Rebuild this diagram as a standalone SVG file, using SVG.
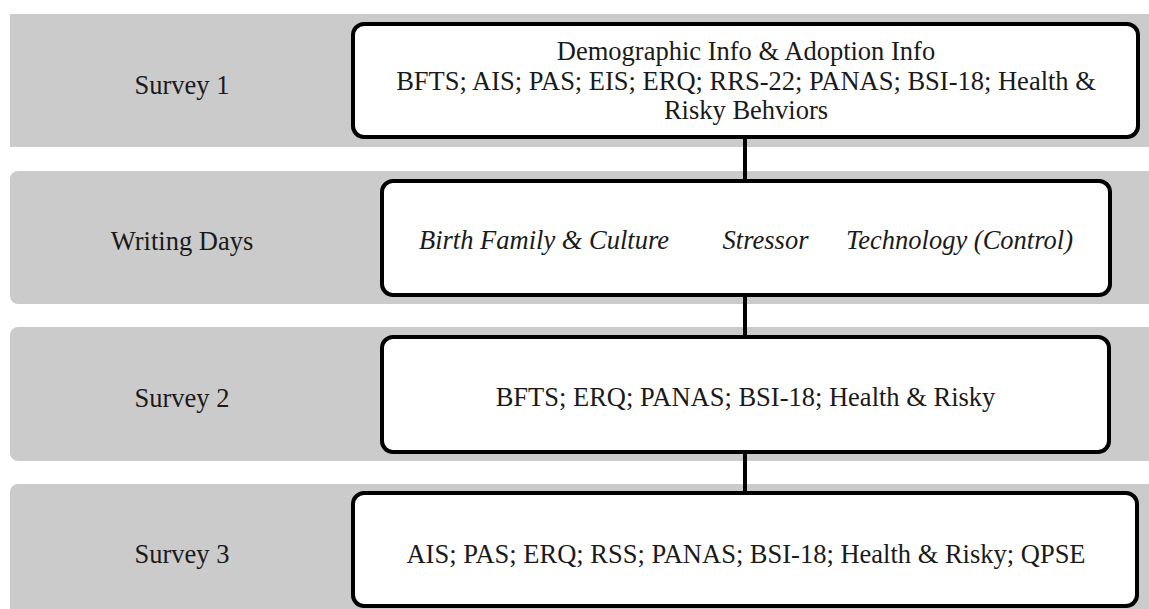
<svg xmlns="http://www.w3.org/2000/svg" width="1149" height="609" viewBox="0 0 1149 609">
<style>
.band{fill:#cbcbcb;}
.box{fill:#ffffff;stroke:#000000;stroke-width:4;}
.t{font-family:"Liberation Serif","Times New Roman",serif;font-size:26.5px;fill:#1a1a1a;text-anchor:middle;}
.i{font-style:italic;}
.conn{stroke:#000000;stroke-width:4;fill:none;}
</style>
<rect width="1149" height="609" fill="#ffffff"/>
<g id="bands">
<rect class="band" x="10" y="14" width="1150" height="133"/>
<rect class="band" x="10" y="171" width="1150" height="133" rx="8"/>
<rect class="band" x="10" y="327" width="1150" height="134" rx="8"/>
<rect class="band" x="10" y="484" width="1150" height="135" rx="8"/>
</g>
<g id="connectors">
<line class="conn" x1="745" y1="137" x2="745" y2="181"/>
<line class="conn" x1="745" y1="295" x2="745" y2="337"/>
<line class="conn" x1="745" y1="452" x2="745" y2="493"/>
</g>
<g id="label-survey1"><text class="t" x="182" y="94">Survey 1</text></g>
<g id="label-writing"><text class="t" x="182" y="250">Writing Days</text></g>
<g id="label-survey2"><text class="t" x="182" y="407">Survey 2</text></g>
<g id="label-survey3"><text class="t" x="182" y="563">Survey 3</text></g>
<g id="box-survey1">
<rect class="box" x="353" y="24" width="785" height="113" rx="11"/>
<text class="t" x="746" y="60">Demographic Info &amp; Adoption Info</text>
<text class="t" x="746" y="90">BFTS; AIS; PAS; EIS; ERQ; RRS-22; PANAS; BSI-18; Health &amp;</text>
<text class="t" x="746" y="119">Risky Behviors</text>
</g>
<g id="box-writing">
<rect class="box" x="382" y="181" width="728" height="114" rx="11"/>
<text class="t i" x="544" y="249">Birth Family &amp; Culture</text>
<text class="t i" x="765.5" y="249">Stressor</text>
<text class="t i" x="959.5" y="249">Technology (Control)</text>
</g>
<g id="box-survey2">
<rect class="box" x="382" y="337" width="727" height="115" rx="11"/>
<text class="t" x="745.5" y="406">BFTS; ERQ; PANAS; BSI-18; Health &amp; Risky</text>
</g>
<g id="box-survey3">
<rect class="box" x="353" y="493" width="784" height="113" rx="11"/>
<text class="t" x="746" y="563">AIS; PAS; ERQ; RSS; PANAS; BSI-18; Health &amp; Risky; QPSE</text>
</g>
</svg>
